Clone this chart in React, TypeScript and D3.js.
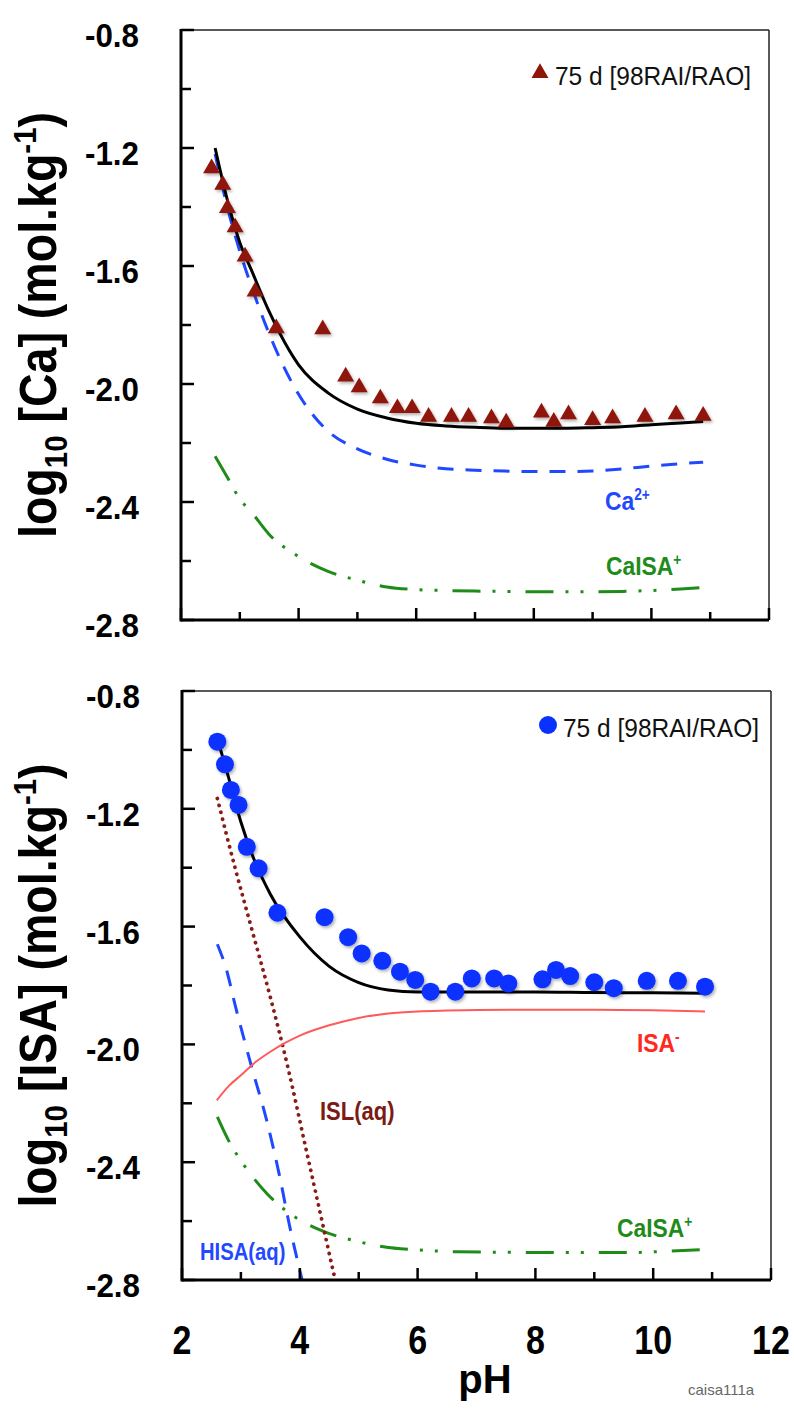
import React from 'react';
import * as d3 from 'd3';

// ---- data ----
const xTickLabels = ['2', '4', '6', '8', '10', '12'];
const yTickLabels = ['-0.8', '-1.2', '-1.6', '-2.0', '-2.4', '-2.8'];

// top panel: Ca
const caObsPh = [2.52, 2.71, 2.79, 2.92, 3.09, 3.26, 3.62, 4.41, 4.80, 5.03, 5.39, 5.68, 5.93, 6.21, 6.60, 6.89, 7.28, 7.53, 8.13, 8.34, 8.59, 9.00, 9.34, 9.89, 10.42, 10.88];
const caObs = [-1.269, -1.325, -1.404, -1.469, -1.568, -1.687, -1.811, -1.815, -1.975, -2.011, -2.049, -2.082, -2.082, -2.111, -2.111, -2.111, -2.116, -2.131, -2.097, -2.128, -2.103, -2.122, -2.116, -2.111, -2.103, -2.108];

const caCurvePh = [2.58, 2.8, 3.0, 3.2, 3.5, 4.0, 4.5, 5.0, 5.5, 6.0, 6.5, 7.0, 7.5, 8.0, 8.5, 9.0, 9.5, 10.0, 10.5, 10.88];
const caTotal = [-1.20, -1.385, -1.52, -1.615, -1.755, -1.935, -2.03, -2.085, -2.115, -2.133, -2.142, -2.147, -2.150, -2.150, -2.150, -2.148, -2.145, -2.138, -2.132, -2.127];
const caFree = [-1.22, -1.41, -1.55, -1.67, -1.83, -2.035, -2.16, -2.22, -2.255, -2.275, -2.287, -2.292, -2.295, -2.297, -2.297, -2.295, -2.288, -2.278, -2.27, -2.265];
const caIsaTop = [-2.245, -2.32, -2.39, -2.435, -2.51, -2.585, -2.635, -2.665, -2.688, -2.697, -2.70, -2.702, -2.703, -2.704, -2.704, -2.704, -2.703, -2.700, -2.695, -2.690];

// bottom panel: ISA
const isaObsPh = [2.60, 2.73, 2.83, 2.96, 3.10, 3.30, 3.62, 4.42, 4.82, 5.05, 5.40, 5.70, 5.96, 6.22, 6.64, 6.92, 7.30, 7.54, 8.12, 8.35, 8.59, 9.00, 9.33, 9.89, 10.42, 10.88];
const isaObs = [-0.972, -1.049, -1.136, -1.187, -1.329, -1.402, -1.553, -1.568, -1.636, -1.691, -1.716, -1.753, -1.781, -1.821, -1.821, -1.776, -1.776, -1.793, -1.779, -1.747, -1.768, -1.789, -1.809, -1.784, -1.784, -1.804];

const isaTotPh = [2.62, 2.8, 3.0, 3.2, 3.5, 4.0, 4.5, 5.0, 5.5, 6.0, 7.0, 8.0, 9.0, 10.0, 10.88];
const isaTotal = [-0.975, -1.10, -1.245, -1.36, -1.49, -1.635, -1.735, -1.79, -1.815, -1.822, -1.822, -1.822, -1.824, -1.825, -1.826];

const isaMinusPh = [2.59, 2.8, 3.0, 3.25, 3.5, 3.75, 4.0, 4.5, 5.0, 5.5, 6.0, 6.5, 7.0, 8.0, 9.0, 10.0, 10.88];
const isaMinus = [-2.19, -2.14, -2.105, -2.06, -2.025, -1.995, -1.97, -1.935, -1.91, -1.895, -1.888, -1.885, -1.883, -1.882, -1.882, -1.884, -1.888];

const islPh = [2.60, 2.9, 3.2, 3.5, 3.8, 4.1, 4.4, 4.6];
const isl = [-1.165, -1.40, -1.62, -1.84, -2.08, -2.35, -2.62, -2.80];

const hisaPh = [2.60, 2.76, 2.9, 3.18, 3.44, 3.66, 3.82, 4.04];
const hisa = [-1.66, -1.75, -1.865, -2.075, -2.26, -2.45, -2.61, -2.80];

const caIsaBotPh = [2.60, 2.8, 3.0, 3.2, 3.44, 3.8, 4.34, 5.0, 5.42, 6.0, 6.66, 7.5, 8.19, 9.49, 10.3, 10.88];
const caIsaBot = [-2.246, -2.33, -2.395, -2.45, -2.506, -2.57, -2.63, -2.67, -2.687, -2.698, -2.704, -2.706, -2.707, -2.707, -2.702, -2.696];

const FONT = 'Liberation Sans, Arial, Helvetica, sans-serif';
const GREEN = '#1f8c1a';
const BLUE = '#1f48ff';

const zip = (a: number[], b: number[]) => a.map((v, i) => [v, b[i]] as [number, number]);

type Box = { l: number; r: number; t: number; b: number };
type Curve = { pts: [number, number][]; color: string; width: number; dash?: string; cap?: string };

// condensed bold label, like the narrow Helvetica of the original
const Label = ({ x, y, color, size, text, sup }: any) => (
  <text transform={`translate(${x},${y}) scale(0.88,1)`} fontFamily={FONT} fontWeight="bold" fontSize={size} fill={color}>
    {text}
    {sup && <tspan fontSize={size * 0.6} dy={-size * 0.4}>{sup}</tspan>}
  </text>
);

const Panel = ({ box, curves, obs, marker, species, showX, children }: any) => {
  const x = d3.scaleLinear().domain([2, 12]).range([box.l, box.r]);
  const y = d3.scaleLinear().domain([-0.8, -2.8]).range([box.t, box.b]);
  const line = d3.line<[number, number]>().x(d => x(d[0])).y(d => y(d[1])).curve(d3.curveMonotoneX);
  const yTicks = d3.range(0, 11).map(i => -0.8 - i * 0.2);
  const xTicks = d3.range(2, 13);
  const tri = d3.symbol(d3.symbolTriangle, 125)()!;
  const midY = (box.t + box.b) / 2;

  return (
    <g>
      {curves.map((c: Curve, i: number) => (
        <path key={i} d={line(c.pts)!} fill="none" stroke={c.color} strokeWidth={c.width}
          strokeDasharray={c.dash} strokeLinecap={(c.cap as any) || 'butt'} />
      ))}
      {obs.map((p: [number, number], i: number) =>
        marker === 'tri'
          ? <path key={i} d={tri} transform={`translate(${x(p[0])},${y(p[1])})`} fill="#8e1508" filter="url(#sh)" />
          : <circle key={i} cx={x(p[0])} cy={y(p[1])} r={9} fill="#0a32ff" filter="url(#sh)" />
      )}

      {/* frame */}
      <line x1={box.l} x2={box.r} y1={box.t} y2={box.t} stroke="#222" strokeWidth={1.5} />
      <line x1={box.r} x2={box.r} y1={box.t} y2={box.b} stroke="#222" strokeWidth={1.5} />
      <line x1={box.l} x2={box.l} y1={box.t - 1} y2={box.b + 1.5} stroke="#000" strokeWidth={3} />
      <line x1={box.l} x2={box.r} y1={box.b} y2={box.b} stroke="#000" strokeWidth={3} />

      {yTicks.map((v, i) => (
        <line key={i} x1={box.l} x2={box.l + (i % 2 === 0 ? 13 : 10)} y1={y(v)} y2={y(v)} stroke="#000" strokeWidth={2.5} />
      ))}
      {xTicks.map(v => (
        <line key={v} x1={x(v)} x2={x(v)} y1={box.b} y2={box.b - (v % 2 === 0 ? 12 : 8)} stroke="#000" strokeWidth={2.5} />
      ))}

      {yTickLabels.map((s, i) => (
        <text key={s} transform={`translate(${box.l - 42},${y(-0.8 - i * 0.4) + 17}) scale(0.95,1)`} textAnchor="end" fontFamily={FONT}
          fontWeight="bold" fontSize={33} fill="#000">{s}</text>
      ))}
      {showX && xTickLabels.map(s => (
        <text key={s} transform={`translate(${x(+s)},1354) scale(0.85,1)`} textAnchor="middle" fontFamily={FONT}
          fontWeight="bold" fontSize={40} fill="#000">{s}</text>
      ))}

      <text transform={`translate(56,${midY}) rotate(-90) scale(0.95,1.04)`} textAnchor="middle" fontFamily={FONT}
        fontWeight="bold" fontSize={49} fill="#000">
        <tspan>log</tspan>
        <tspan fontSize={31} dy={11}>10</tspan>
        <tspan dy={-11}>{` [${species}] (mol.kg`}</tspan>
        <tspan fontSize={31} dy={-19}>-1</tspan>
        <tspan dy={19}>)</tspan>
      </text>
      {children}
    </g>
  );
};

export default function App() {
  const top: Box = { l: 181, r: 769, t: 30, b: 620 };
  const bot: Box = { l: 182, r: 771, t: 691, b: 1280 };
  const dashDot = '28 12 3 12 3 15';

  const topCurves: Curve[] = [
    { pts: zip(caCurvePh, caIsaTop), color: GREEN, width: 3, dash: dashDot },
    { pts: zip(caCurvePh, caFree), color: BLUE, width: 3, dash: '16 12' },
    { pts: zip(caCurvePh, caTotal), color: '#000', width: 3 },
  ];
  const botCurves: Curve[] = [
    { pts: zip(caIsaBotPh, caIsaBot), color: GREEN, width: 3, dash: dashDot },
    { pts: zip(hisaPh, hisa), color: BLUE, width: 3, dash: '16 12' },
    { pts: zip(islPh, isl), color: '#8a1c18', width: 3.8, dash: '0.1 7', cap: 'round' },
    { pts: zip(isaMinusPh, isaMinus), color: '#ff5a5a', width: 2 },
    { pts: zip(isaTotPh, isaTotal), color: '#000', width: 3 },
  ];
  const tri = d3.symbol(d3.symbolTriangle, 125)()!;

  return (
    <svg width={794} height={1409} style={{ position: 'absolute', left: 0, top: 0, background: '#fff' }}>
      <defs>
        <filter id="sh" x="-60%" y="-60%" width="220%" height="220%">
          <feDropShadow dx={1.5} dy={2} stdDeviation={1.5} floodColor="#000" floodOpacity={0.3} />
        </filter>
      </defs>
      <rect width={794} height={1409} fill="#fff" />

      <Panel box={top} curves={topCurves} obs={zip(caObsPh, caObs)} marker="tri" species="Ca" showX={false}>
        <path d={tri} transform="translate(540,73)" fill="#8e1508" />
        <text transform="translate(555,85) scale(0.98,1.05)" fontFamily={FONT} fontSize={25} fill="#111">75 d [98RAI/RAO]</text>
        <Label x={605} y={510} color={BLUE} size={26} text="Ca" sup="2+" />
        <Label x={606} y={575} color={GREEN} size={26} text="CaISA" sup="+" />
      </Panel>

      <Panel box={bot} curves={botCurves} obs={zip(isaObsPh, isaObs)} marker="circle" species="ISA" showX={true}>
        <circle cx={548} cy={725} r={9} fill="#0a32ff" />
        <text transform="translate(563,737) scale(0.98,1.05)" fontFamily={FONT} fontSize={25} fill="#111">75 d [98RAI/RAO]</text>
        <Label x={637} y={1052} color="#ff2a1f" size={26} text="ISA" sup="-" />
        <Label x={320} y={1120} color="#7d1a14" size={25} text="ISL(aq)" />
        <Label x={200} y={1260} color={BLUE} size={23} text="HISA(aq)" />
        <Label x={617} y={1237} color={GREEN} size={26} text="CaISA" sup="+" />
      </Panel>

      <text x={485} y={1393} textAnchor="middle" fontFamily={FONT} fontWeight="bold" fontSize={40} fill="#000">pH</text>
      <text x={688} y={1395} fontFamily={FONT} fontSize={15} fill="#666">caisa111a</text>
    </svg>
  );
}
